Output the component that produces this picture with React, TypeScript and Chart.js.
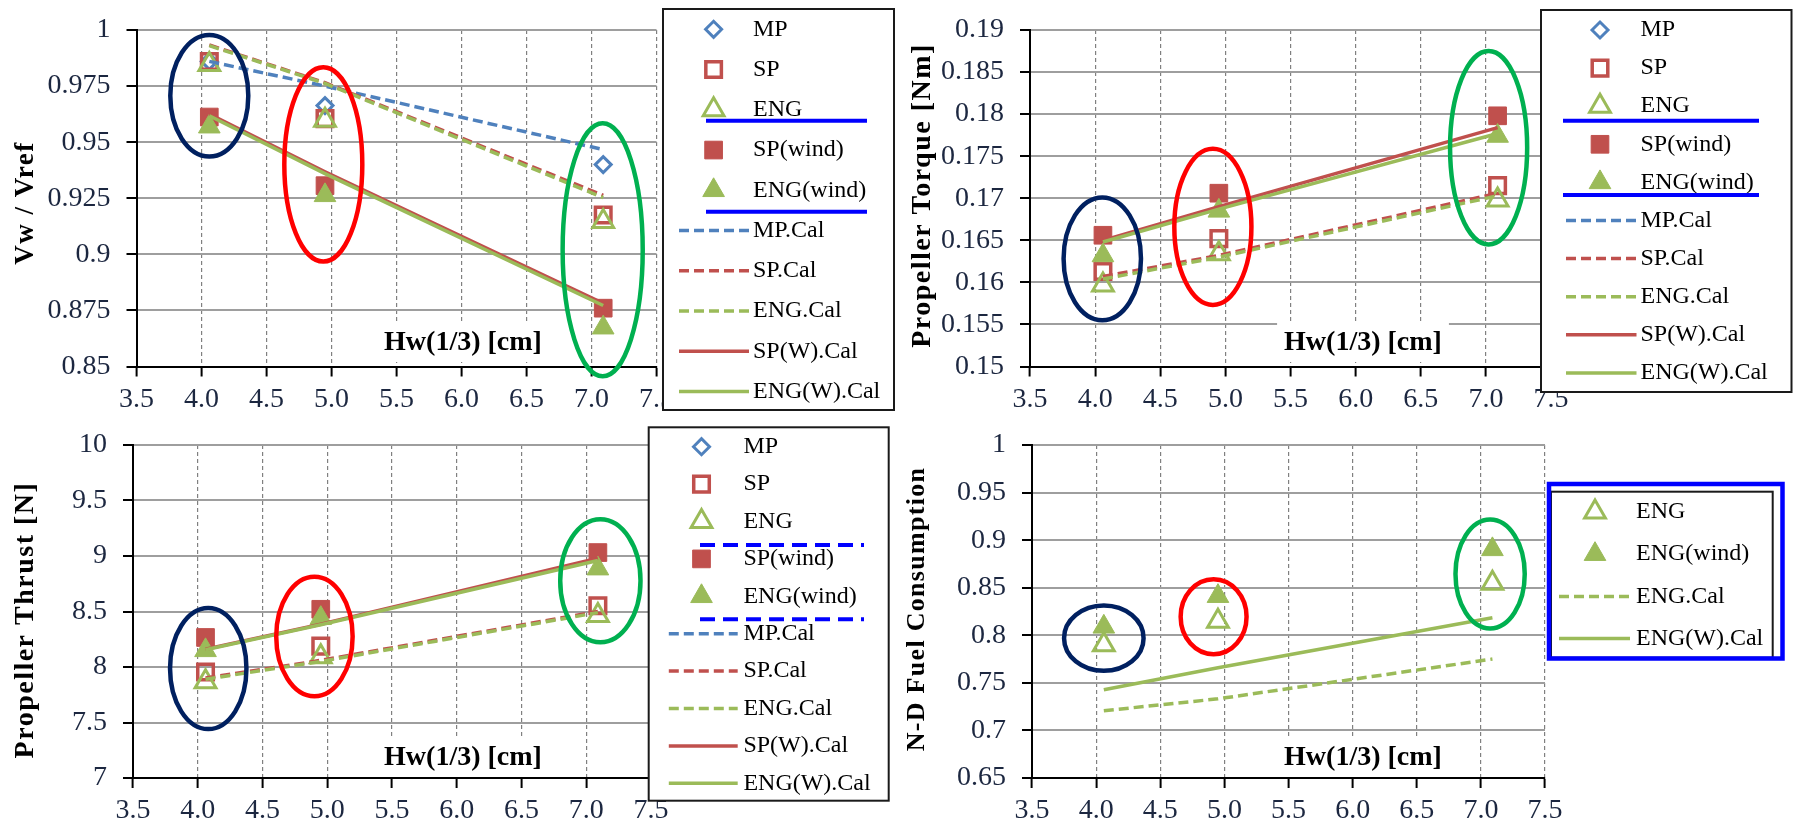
import React, { useEffect, useRef } from 'react';
import { Chart, registerables } from 'chart.js';
import { drawPoint } from 'chart.js/helpers';

Chart.register(...registerables);

const SERIF = '"Liberation Serif", "Times New Roman", Times, serif';
const BLUE = '#4F81BD';
const RED = '#C0504D';
const GREEN = '#9BBB59';
const TICK_COLOR = '#1c2740';

// ---------- shared x values: Hw(1/3) [cm] ----------
const HW = [4.06, 4.95, 7.09];
const X_MIN = 3.5;
const X_MAX = 7.5;
const X_STEP = 0.5;
const X_TITLE = 'Hw(1/3) [cm]';

const SERIES_NAMES = ['MP', 'SP', 'ENG', 'SP(wind)', 'ENG(wind)', 'MP.Cal', 'SP.Cal', 'ENG.Cal', 'SP(W).Cal', 'ENG(W).Cal'];
const FUEL_SERIES_NAMES = ['ENG', 'ENG(wind)', 'ENG.Cal', 'ENG(W).Cal'];

// ---------- Panel 1: Vw / Vref ----------
const VW_MP = [0.986, 0.9663, 0.940];
const VW_SP = [0.986, 0.9605, 0.9175];
const VW_ENG = [0.9846, 0.9598, 0.9146];
const VW_SP_WIND = [0.9612, 0.9306, 0.876];
const VW_ENG_WIND = [0.9569, 0.9263, 0.8673];
const VW_MP_CAL = [0.986, 0.975, 0.9467];
const VW_SP_CAL = [0.9933, 0.9765, 0.9263];
const VW_ENG_CAL = [0.9930, 0.9762, 0.9253];
const VW_SPW_CAL = [0.9625, 0.9368, 0.8782];
const VW_ENGW_CAL = [0.9618, 0.936, 0.8772];
const VW_EL_CX = [4.06, 4.937, 7.086];
const VW_EL_CY = [0.9707, 0.9401, 0.902];
const VW_EL_RX = [0.30, 0.30, 0.308];
const VW_EL_RY = [0.0271, 0.0433, 0.0564];

// ---------- Panel 2: Propeller Torque [Nm] ----------
const TQ_SP = [0.1613, 0.1652, 0.1715];
const TQ_ENG = [0.1597, 0.1634, 0.1698];
const TQ_SP_WIND = [0.1656, 0.1706, 0.1798];
const TQ_ENG_WIND = [0.1632, 0.1685, 0.1774];
const TQ_SP_CAL = [0.1607, 0.1632, 0.1706];
const TQ_ENG_CAL = [0.1604, 0.1630, 0.1703];
const TQ_SPW_CAL = [0.1650, 0.1690, 0.1784];
const TQ_ENGW_CAL = [0.1648, 0.1687, 0.1777];
const TQ_EL_CX = [4.055, 4.904, 7.021];
const TQ_EL_CY = [0.1628, 0.1666, 0.176];
const TQ_EL_RX = [0.297, 0.296, 0.296];
const TQ_EL_RY = [0.0073, 0.00928, 0.01149];

// ---------- Panel 3: Propeller Thrust [N] ----------
const TH_SP = [7.955, 8.188, 8.551];
const TH_ENG = [7.868, 8.092, 8.464];
const TH_SP_WIND = [8.266, 8.52, 9.031];
const TH_ENG_WIND = [8.15, 8.44, 8.886];
const TH_SP_CAL = [7.90, 8.06, 8.50];
const TH_ENG_CAL = [7.89, 8.05, 8.49];
const TH_SPW_CAL = [8.16, 8.385, 8.98];
const TH_ENGW_CAL = [8.155, 8.38, 8.96];
const TH_EL_CX = [4.081, 4.901, 7.109];
const TH_EL_CY = [7.986, 8.275, 8.777];
const TH_EL_RX = [0.295, 0.295, 0.31];
const TH_EL_RY = [0.545, 0.538, 0.554];

// ---------- Panel 4: N-D Fuel Consumption ----------
const FC_ENG = [0.790, 0.8147, 0.8547];
const FC_ENG_WIND = [0.8089, 0.8411, 0.8903];
const FC_ENG_CAL = [0.7207, 0.7332, 0.775];
const FC_ENGW_CAL = [0.7427, 0.7658, 0.8184];
const FC_EL_CX = [4.06, 4.916, 7.072];
const FC_EL_CY = [0.797, 0.8194, 0.8644];
const FC_EL_RX = [0.31, 0.257, 0.27];
const FC_EL_RY = [0.0343, 0.0394, 0.0572];

const EL_COLORS = ['#002060', '#FF0000', '#00B050'];

type Style = {
  kind: 'marker' | 'line';
  color: string;
  pointStyle?: string;
  fill?: boolean;
  radius?: number;
  bw?: number;
  dash?: number[];
};

const STYLES: Record<string, Style> = {
  'MP': { kind: 'marker', color: BLUE, pointStyle: 'rectRot', fill: false, radius: 8, bw: 3 },
  'SP': { kind: 'marker', color: RED, pointStyle: 'rect', fill: false, radius: 11, bw: 3.5 },
  'ENG': { kind: 'marker', color: GREEN, pointStyle: 'triangle', fill: false, radius: 12, bw: 3 },
  'SP(wind)': { kind: 'marker', color: RED, pointStyle: 'rect', fill: true, radius: 12.5, bw: 1 },
  'ENG(wind)': { kind: 'marker', color: GREEN, pointStyle: 'triangle', fill: true, radius: 12.5, bw: 1 },
  'MP.Cal': { kind: 'line', color: BLUE, dash: [10, 5] },
  'SP.Cal': { kind: 'line', color: RED, dash: [10, 5] },
  'ENG.Cal': { kind: 'line', color: GREEN, dash: [10, 5] },
  'SP(W).Cal': { kind: 'line', color: RED },
  'ENG(W).Cal': { kind: 'line', color: GREEN },
};

type Legend = {
  box: { x: number; y: number; w: number; h: number };
  blueBox?: { x: number; y: number; w: number; h: number };
  y0: number;
  dy: number;
  markerX: number;
  lineX1: number;
  lineX2: number;
  textX: number;
  seps: { y: number; x1: number; x2: number; dashed: boolean }[];
};

type Panel = {
  left: number; top: number; w: number; h: number;
  area: { l: number; t: number; r: number; b: number };
  yMin: number; yMax: number; yStep: number;
  yTitle: string; yTitleX: number; yTitleY: number; yTitleSize: number; yTitleSpacing: number;
  names: string[];
  values: Record<string, number[]>;
  el: { cx: number[]; cy: number[]; rx: number[]; ry: number[] };
  legend: Legend;
};

const PANELS: Panel[] = [
  {
    left: 0, top: 0, w: 900, h: 415,
    area: { l: 136.5, t: 23, r: 656.5, b: 366.5 },
    yMin: 0.85, yMax: 1, yStep: 0.025,
    yTitle: 'Vw / Vref', yTitleX: 26, yTitleY: 203, yTitleSize: 27, yTitleSpacing: 1.5,
    names: SERIES_NAMES,
    values: {
      'MP': VW_MP, 'SP': VW_SP, 'ENG': VW_ENG, 'SP(wind)': VW_SP_WIND, 'ENG(wind)': VW_ENG_WIND,
      'MP.Cal': VW_MP_CAL, 'SP.Cal': VW_SP_CAL, 'ENG.Cal': VW_ENG_CAL, 'SP(W).Cal': VW_SPW_CAL, 'ENG(W).Cal': VW_ENGW_CAL,
    },
    el: { cx: VW_EL_CX, cy: VW_EL_CY, rx: VW_EL_RX, ry: VW_EL_RY },
    legend: {
      box: { x: 663, y: 9, w: 231, h: 401 },
      y0: 29.3, dy: 40.25, markerX: 713.6, lineX1: 679, lineX2: 749, textX: 753,
      seps: [{ y: 120.7, x1: 706, x2: 867, dashed: false }, { y: 211.7, x1: 706, x2: 867, dashed: false }],
    },
  },
  {
    left: 900, top: 0, w: 899, h: 415,
    area: { l: 130, t: 23, r: 651, b: 366.5 },
    yMin: 0.15, yMax: 0.19, yStep: 0.005,
    yTitle: 'Propeller Torque [Nm]', yTitleX: 23, yTitleY: 195.5, yTitleSize: 28, yTitleSpacing: 1.5,
    names: SERIES_NAMES,
    values: {
      'MP': [], 'SP': TQ_SP, 'ENG': TQ_ENG, 'SP(wind)': TQ_SP_WIND, 'ENG(wind)': TQ_ENG_WIND,
      'MP.Cal': [], 'SP.Cal': TQ_SP_CAL, 'ENG.Cal': TQ_ENG_CAL, 'SP(W).Cal': TQ_SPW_CAL, 'ENG(W).Cal': TQ_ENGW_CAL,
    },
    el: { cx: TQ_EL_CX, cy: TQ_EL_CY, rx: TQ_EL_RX, ry: TQ_EL_RY },
    legend: {
      box: { x: 641, y: 10, w: 250.5, h: 382 },
      y0: 30, dy: 38.1, markerX: 700, lineX1: 666, lineX2: 736.5, textX: 740.5,
      seps: [{ y: 120.7, x1: 663, x2: 859, dashed: false }, { y: 195, x1: 663, x2: 859, dashed: false }],
    },
  },
  {
    left: 0, top: 415, w: 900, h: 410,
    area: { l: 133, t: 19, r: 651, b: 363 },
    yMin: 7, yMax: 10, yStep: 0.5,
    yTitle: 'Propeller Thrust [N]', yTitleX: 26, yTitleY: 205, yTitleSize: 28, yTitleSpacing: 1.5,
    names: SERIES_NAMES,
    values: {
      'MP': [], 'SP': TH_SP, 'ENG': TH_ENG, 'SP(wind)': TH_SP_WIND, 'ENG(wind)': TH_ENG_WIND,
      'MP.Cal': [], 'SP.Cal': TH_SP_CAL, 'ENG.Cal': TH_ENG_CAL, 'SP(W).Cal': TH_SPW_CAL, 'ENG(W).Cal': TH_ENGW_CAL,
    },
    el: { cx: TH_EL_CX, cy: TH_EL_CY, rx: TH_EL_RX, ry: TH_EL_RY },
    legend: {
      box: { x: 648.7, y: 12.3, w: 240, h: 373.4 },
      y0: 31.7, dy: 37.4, markerX: 701.5, lineX1: 668.8, lineX2: 737.7, textX: 743.4,
      seps: [{ y: 130, x1: 700, x2: 864, dashed: true }, { y: 204.3, x1: 700, x2: 864, dashed: true }],
    },
  },
  {
    left: 900, top: 415, w: 899, h: 410,
    area: { l: 132, t: 19, r: 645, b: 363 },
    yMin: 0.65, yMax: 1, yStep: 0.05,
    yTitle: 'N-D Fuel Consumption', yTitleX: 17, yTitleY: 194, yTitleSize: 26, yTitleSpacing: 1.3,
    names: FUEL_SERIES_NAMES,
    values: { 'ENG': FC_ENG, 'ENG(wind)': FC_ENG_WIND, 'ENG.Cal': FC_ENG_CAL, 'ENG(W).Cal': FC_ENGW_CAL },
    el: { cx: FC_EL_CX, cy: FC_EL_CY, rx: FC_EL_RX, ry: FC_EL_RY },
    legend: {
      box: { x: 651, y: 76.7, w: 221.7, h: 166 },
      blueBox: { x: 649, y: 69, w: 233.5, h: 174.5 },
      y0: 97, dy: 42.2, markerX: 695, lineX1: 659, lineX2: 730, textX: 736,
      seps: [],
    },
  },
];

function makeDatasets(p: Panel) {
  const total = p.names.length;
  return p.names.map((name, idx) => {
    const st = STYLES[name];
    const vals = p.values[name] || [];
    const data = vals.map((y, i) => ({ x: HW[i], y }));
    const order = total - idx;
    if (st.kind === 'marker') {
      const bg = st.fill ? st.color : 'rgba(0,0,0,0)';
      return {
        label: name, data, showLine: false, order,
        pointStyle: st.pointStyle, pointRadius: st.radius, pointHoverRadius: st.radius,
        pointBorderWidth: st.bw, pointBorderColor: st.color, pointBackgroundColor: bg,
        borderColor: st.color, backgroundColor: bg,
      };
    }
    return {
      label: name, data, showLine: true, order,
      borderColor: st.color, backgroundColor: st.color, borderWidth: 3.5,
      borderDash: st.dash || [], pointRadius: 0, pointHoverRadius: 0, tension: 0, fill: false,
    };
  });
}

function drawLegend(ctx: CanvasRenderingContext2D, p: Panel) {
  const lg = p.legend;
  ctx.save();
  ctx.setLineDash([]);
  ctx.fillStyle = '#ffffff';
  const outer = lg.blueBox || lg.box;
  ctx.fillRect(outer.x, outer.y, outer.w, outer.h);
  ctx.strokeStyle = '#1a1a1a';
  ctx.lineWidth = 2;
  ctx.strokeRect(lg.box.x, lg.box.y, lg.box.w, lg.box.h);
  if (lg.blueBox) {
    ctx.strokeStyle = '#0000FF';
    ctx.lineWidth = 4.5;
    ctx.strokeRect(lg.blueBox.x, lg.blueBox.y, lg.blueBox.w, lg.blueBox.h);
  }
  p.names.forEach((name, i) => {
    const y = lg.y0 + i * lg.dy;
    const st = STYLES[name];
    if (st.kind === 'marker') {
      ctx.setLineDash([]);
      ctx.strokeStyle = st.color;
      ctx.fillStyle = st.fill ? st.color : 'rgba(0,0,0,0)';
      ctx.lineWidth = st.bw || 1;
      drawPoint(ctx, { pointStyle: st.pointStyle as any, rotation: 0, radius: st.radius as number, borderWidth: st.bw as number }, lg.markerX, y);
    } else {
      ctx.beginPath();
      ctx.strokeStyle = st.color;
      ctx.lineWidth = 3.5;
      ctx.setLineDash(st.dash || []);
      ctx.moveTo(lg.lineX1, y);
      ctx.lineTo(lg.lineX2, y);
      ctx.stroke();
      ctx.setLineDash([]);
    }
    ctx.fillStyle = '#000';
    ctx.font = `24px ${SERIF}`;
    ctx.textBaseline = 'middle';
    ctx.textAlign = 'left';
    ctx.fillText(name, lg.textX, y);
  });
  lg.seps.forEach((s) => {
    ctx.beginPath();
    ctx.strokeStyle = '#0000FF';
    ctx.lineWidth = 4;
    ctx.setLineDash(s.dashed ? [15, 8] : []);
    ctx.moveTo(s.x1, s.y);
    ctx.lineTo(s.x2, s.y);
    ctx.stroke();
  });
  ctx.restore();
}

function makeOverlay(p: Panel) {
  return {
    id: 'overlay',
    afterDraw(chart: any) {
      const ctx: CanvasRenderingContext2D = chart.ctx;
      const xs = chart.scales.x;
      const ys = chart.scales.y;

      // x axis title with white box
      ctx.save();
      ctx.font = `bold 28px ${SERIF}`;
      const tw = ctx.measureText(X_TITLE).width;
      const tcx = 463;
      const tcy = 343;
      ctx.fillStyle = '#ffffff';
      ctx.fillRect(tcx - tw / 2 - 7, 322, tw + 14, 40);
      ctx.fillStyle = '#000';
      ctx.textAlign = 'center';
      ctx.textBaseline = 'middle';
      ctx.fillText(X_TITLE, tcx, tcy);
      ctx.restore();

      // y axis title
      ctx.save();
      ctx.translate(p.yTitleX, p.yTitleY);
      ctx.rotate(-Math.PI / 2);
      ctx.font = `bold ${p.yTitleSize}px ${SERIF}`;
      (ctx as any).letterSpacing = `${p.yTitleSpacing}px`;
      ctx.fillStyle = '#000';
      ctx.textAlign = 'center';
      ctx.textBaseline = 'middle';
      ctx.fillText(p.yTitle, 0, 0);
      ctx.restore();

      // ellipses
      ctx.save();
      ctx.setLineDash([]);
      ctx.lineWidth = 4.5;
      p.el.cx.forEach((cxv, i) => {
        const cx = xs.getPixelForValue(cxv);
        const cy = ys.getPixelForValue(p.el.cy[i]);
        const rx = Math.abs(xs.getPixelForValue(cxv + p.el.rx[i]) - cx);
        const ry = Math.abs(ys.getPixelForValue(p.el.cy[i] + p.el.ry[i]) - cy);
        ctx.beginPath();
        ctx.ellipse(cx, cy, rx, ry, 0, 0, Math.PI * 2);
        ctx.strokeStyle = EL_COLORS[i];
        ctx.stroke();
      });
      ctx.restore();

      drawLegend(ctx, p);
    },
  };
}

function makeConfig(p: Panel): any {
  return {
    type: 'scatter',
    data: { datasets: makeDatasets(p) },
    options: {
      responsive: false,
      animation: false,
      events: [],
      layout: { padding: { left: 0, top: p.area.t, right: p.w - p.area.r, bottom: 0 } },
      plugins: { legend: { display: false }, tooltip: { enabled: false }, title: { display: false } },
      scales: {
        x: {
          type: 'linear', position: 'bottom', min: X_MIN, max: X_MAX,
          afterFit: (s: any) => { s.height = p.h - p.area.b; },
          ticks: {
            stepSize: X_STEP, autoSkip: false, maxRotation: 0, padding: 9,
            color: TICK_COLOR, font: { family: SERIF, size: 28, lineHeight: 1 },
            callback: (v: any) => Number(v).toFixed(1),
          },
          grid: { color: '#808080', lineWidth: 1.2, drawTicks: true, tickLength: 10, tickColor: '#000', tickWidth: 2 },
          border: { display: true, color: '#000', width: 2, dash: [4, 3] },
        },
        y: {
          type: 'linear', position: 'left', min: p.yMin, max: p.yMax,
          afterFit: (s: any) => { s.width = p.area.l; },
          ticks: {
            stepSize: p.yStep, autoSkip: false, padding: 16,
            color: TICK_COLOR, font: { family: SERIF, size: 28, lineHeight: 1 },
            callback: (v: any) => String(+Number(v).toFixed(4)),
          },
          grid: { color: '#9e9e9e', lineWidth: 2, drawTicks: true, tickLength: 10, tickColor: '#000', tickWidth: 2 },
          border: { display: true, color: '#000', width: 2 },
        },
      },
    },
    plugins: [makeOverlay(p)],
  };
}

function PanelChart({ p }: { p: Panel }) {
  const ref = useRef<HTMLCanvasElement>(null);
  useEffect(() => {
    if (!ref.current) return;
    const chart = new Chart(ref.current, makeConfig(p));
    return () => chart.destroy();
  }, [p]);
  return (
    <canvas
      ref={ref}
      width={p.w}
      height={p.h}
      style={{ position: 'absolute', left: p.left, top: p.top, width: p.w, height: p.h }}
    />
  );
}

export default function App() {
  return (
    <div style={{ position: 'absolute', left: 0, top: 0, width: 1799, height: 825, background: '#ffffff', overflow: 'hidden' }}>
      {PANELS.map((p, i) => (
        <PanelChart key={i} p={p} />
      ))}
    </div>
  );
}
